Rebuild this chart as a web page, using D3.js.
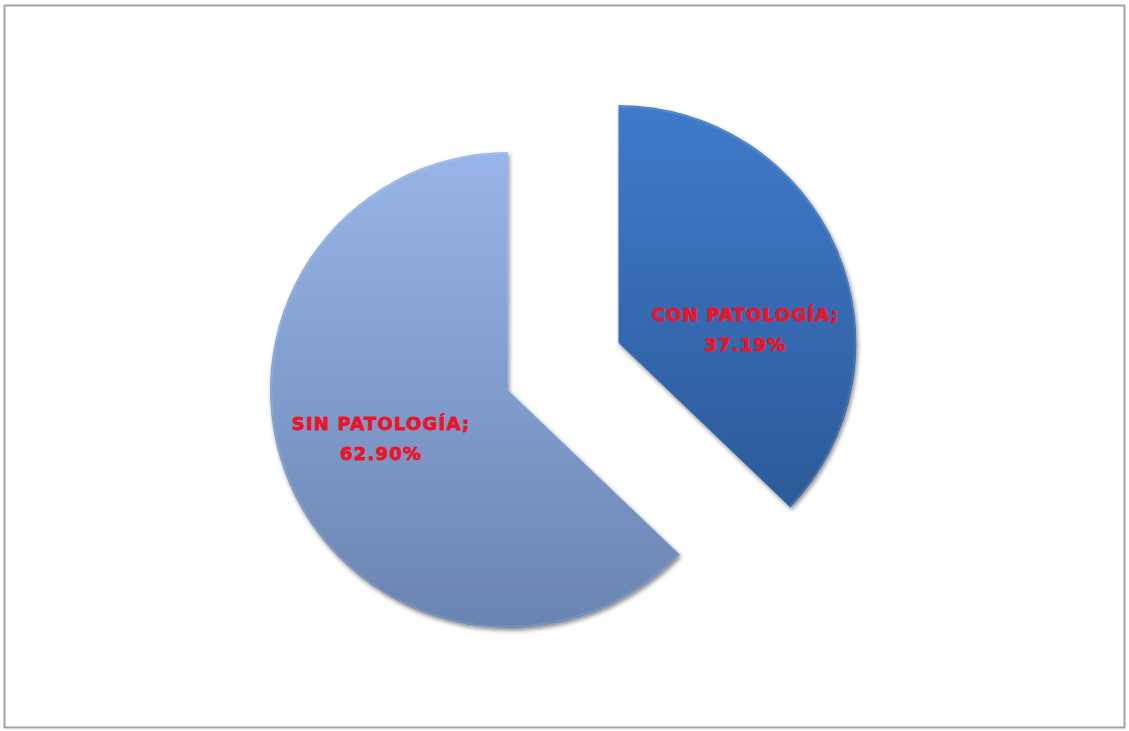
<!DOCTYPE html>
<html>
<head>
<meta charset="utf-8">
<script src="https://cdn.jsdelivr.net/npm/d3@7"></script>
<style>
  html, body { margin: 0; padding: 0; background: #ffffff; }
  svg { display: block; }
</style>
</head>
<body>
<svg id="chart" width="1129" height="731"></svg>
<script>
// Slices, clockwise from twelve o'clock
const categories = ["CON PATOLOGÍA", "SIN PATOLOGÍA"];
const values = [37.19, 62.90];
const valueLabels = ["37.19%", "62.90%"];

// Layout
const W = 1129, H = 731;
const center = { x: 508, y: 390 };
const radius = 238;
const explode = [120, 0];               // pull-out distance per slice
// label placement: fraction of radius and angle (null = slice mid-angle)
const labelRadius = [0.535, 0.58];
const labelAngleDeg = [86.4, null];
const gradTop = ["#3f7acb", "#97b5e8"];
const gradBottom = ["#2c5a98", "#6a84b1"];

const svg = d3.select("#chart");
const defs = svg.append("defs");

// outer frame
svg.append("rect")
  .attr("x", 4.5).attr("y", 5.5)
  .attr("width", 1120).attr("height", 722)
  .attr("fill", "#ffffff")
  .attr("stroke", "#a3a3a3")
  .attr("stroke-width", 2);

const shadow = defs.append("filter").attr("id", "shadow")
  .attr("x", "-10%").attr("y", "-10%").attr("width", "120%").attr("height", "120%");
shadow.append("feDropShadow")
  .attr("dx", 1.5).attr("dy", 2.5).attr("stdDeviation", 2.2)
  .attr("flood-color", "#000").attr("flood-opacity", 0.45);

categories.forEach((c, i) => {
  const g = defs.append("linearGradient").attr("id", "grad" + i)
    .attr("x1", 0).attr("y1", 0).attr("x2", 0).attr("y2", 1);
  g.append("stop").attr("offset", "0%").attr("stop-color", gradTop[i]);
  g.append("stop").attr("offset", "100%").attr("stop-color", gradBottom[i]);
});

const pie = d3.pie().sort(null).value(d => d)(values);
const arc = d3.arc().innerRadius(0).outerRadius(radius);

const slices = svg.append("g")
  .attr("transform", `translate(${center.x},${center.y})`)
  .selectAll("g.slice")
  .data(pie)
  .join("g")
  .attr("class", "slice")
  .attr("transform", (d, i) => {
    const mid = (d.startAngle + d.endAngle) / 2;
    return `translate(${explode[i] * Math.sin(mid)},${-explode[i] * Math.cos(mid)})`;
  });

slices.append("path")
  .attr("d", arc)
  .attr("fill", (d, i) => `url(#grad${i})`)
  .attr("filter", "url(#shadow)");

// soft light rim along the slice outline
slices.append("path")
  .attr("d", d3.arc().innerRadius(0).outerRadius(radius - 1.5))
  .attr("fill", "none")
  .attr("stroke", "#ffffff")
  .attr("stroke-opacity", 0.12)
  .attr("stroke-width", 1.5);

const labels = slices.append("text")
  .attr("text-anchor", "middle")
  .attr("font-family", "'DejaVu Sans', Verdana, sans-serif")
  .attr("font-weight", "bold")
  .attr("font-size", 18)
  .attr("letter-spacing", 1.2)
  .attr("fill", "#e8162c")
  .attr("stroke", "#e8162c")
  .attr("stroke-width", 0.9)
  .attr("stroke-linejoin", "round")
  .attr("transform", (d, i) => {
    const a = labelAngleDeg[i] == null ? (d.startAngle + d.endAngle) / 2 : labelAngleDeg[i] * Math.PI / 180;
    const r = labelRadius[i] * radius;
    return `translate(${r * Math.sin(a)},${-r * Math.cos(a)})`;
  });

labels.append("tspan").attr("x", 0).attr("y", -14).text((d, i) => categories[i] + ";");
labels.append("tspan").attr("x", 0).attr("y", 16).text((d, i) => valueLabels[i]);
</script>
</body>
</html>
